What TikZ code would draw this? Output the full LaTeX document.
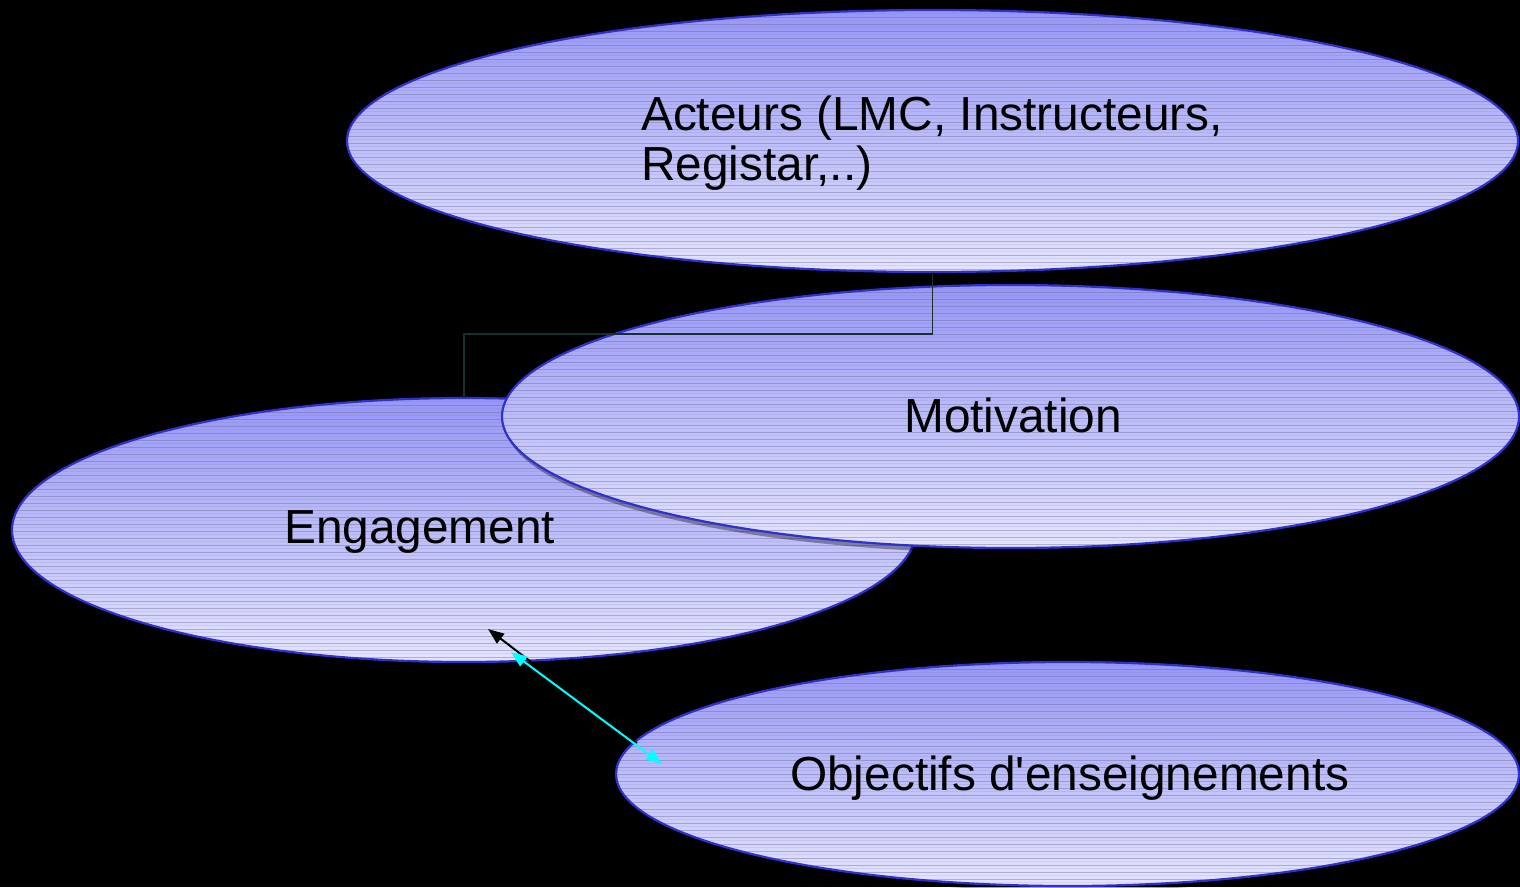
\documentclass[tikz,border=0pt]{standalone}
\usepackage{fontspec}
\setmainfont{Liberation Sans}
\usetikzlibrary{shapes.geometric,arrows.meta,shadows}
\definecolor{topc}{RGB}{150,150,246}
\definecolor{botc}{RGB}{228,228,254}
\definecolor{edgec}{RGB}{48,48,205}
\definecolor{stripec}{RGB}{105,105,150}
\definecolor{connc}{RGB}{22,48,48}
\definecolor{cyanc}{RGB}{0,255,255}
\tikzset{
  bub/.style={ellipse, inner sep=0pt, outer sep=0pt, draw=edgec, line width=2.2pt,
    top color=topc, bottom color=botc,
    drop shadow={shadow xshift=2pt, shadow yshift=-5pt, fill=black, opacity=0.35},
    path picture={\foreach \k in {0,7,...,280}{%
      \draw[stripec, opacity=0.42, line width=0.9pt]
        ([yshift=-\k pt]path picture bounding box.north west) --
        ([yshift=-\k pt]path picture bounding box.north east);
      \draw[stripec, opacity=0.12, line width=0.8pt]
        ([yshift=-\k pt-3.5pt]path picture bounding box.north west) --
        ([yshift=-\k pt-3.5pt]path picture bounding box.north east);}}},
  lbl/.style={anchor=base west, inner sep=0pt, text=black, font=\fontsize{47.8}{50}\selectfont},
  conn/.style={draw=connc, line width=1.3pt},
  tipA/.style={line width=2pt},
}
\begin{document}
\begin{tikzpicture}[x=1pt,y=-1pt]
\fill[black] (0,0) rectangle (1520,887);
\useasboundingbox (0,0) rectangle (1520,887);
\node[bub, minimum width=1171pt, minimum height=262pt] (act) at (932.5,141) {};
\node[bub, minimum width=904pt, minimum height=264pt] (eng) at (464,530) {};
\node[bub, minimum width=1017pt, minimum height=263pt] (mot) at (1010.5,416.5) {};
\node[bub, minimum width=903pt, minimum height=224pt] (obj) at (1067.5,774) {};
\coordinate (bend) at (700,334);
\draw[conn] (act.south) |- (bend) -| (eng.north);
\node[lbl] (actA) at (641,130) {Acteurs (LMC, Instructeurs,};
\node[lbl] (actB) at (641,180) {Registar,..)};
\node[lbl] (engT) at (284,543) {Engagement};
\node[lbl] (motT) at (904,432) {Motivation};
\node[lbl] (objT) at (790,790) {Objectifs d\textquotesingle enseignements};
\coordinate (bA) at (637,743);
\coordinate (bB) at (488,629);
\coordinate (cA) at (511,652);
\coordinate (cB) at (662,764);
\draw[tipA, black, -{Triangle[length=16pt,width=12pt]}] (bA) -- (bB);
\draw[tipA, cyanc, {Triangle[length=16pt,width=12pt]}-{Triangle[length=16pt,width=12pt]}] (cA) -- (cB);
\end{tikzpicture}
\end{document}
